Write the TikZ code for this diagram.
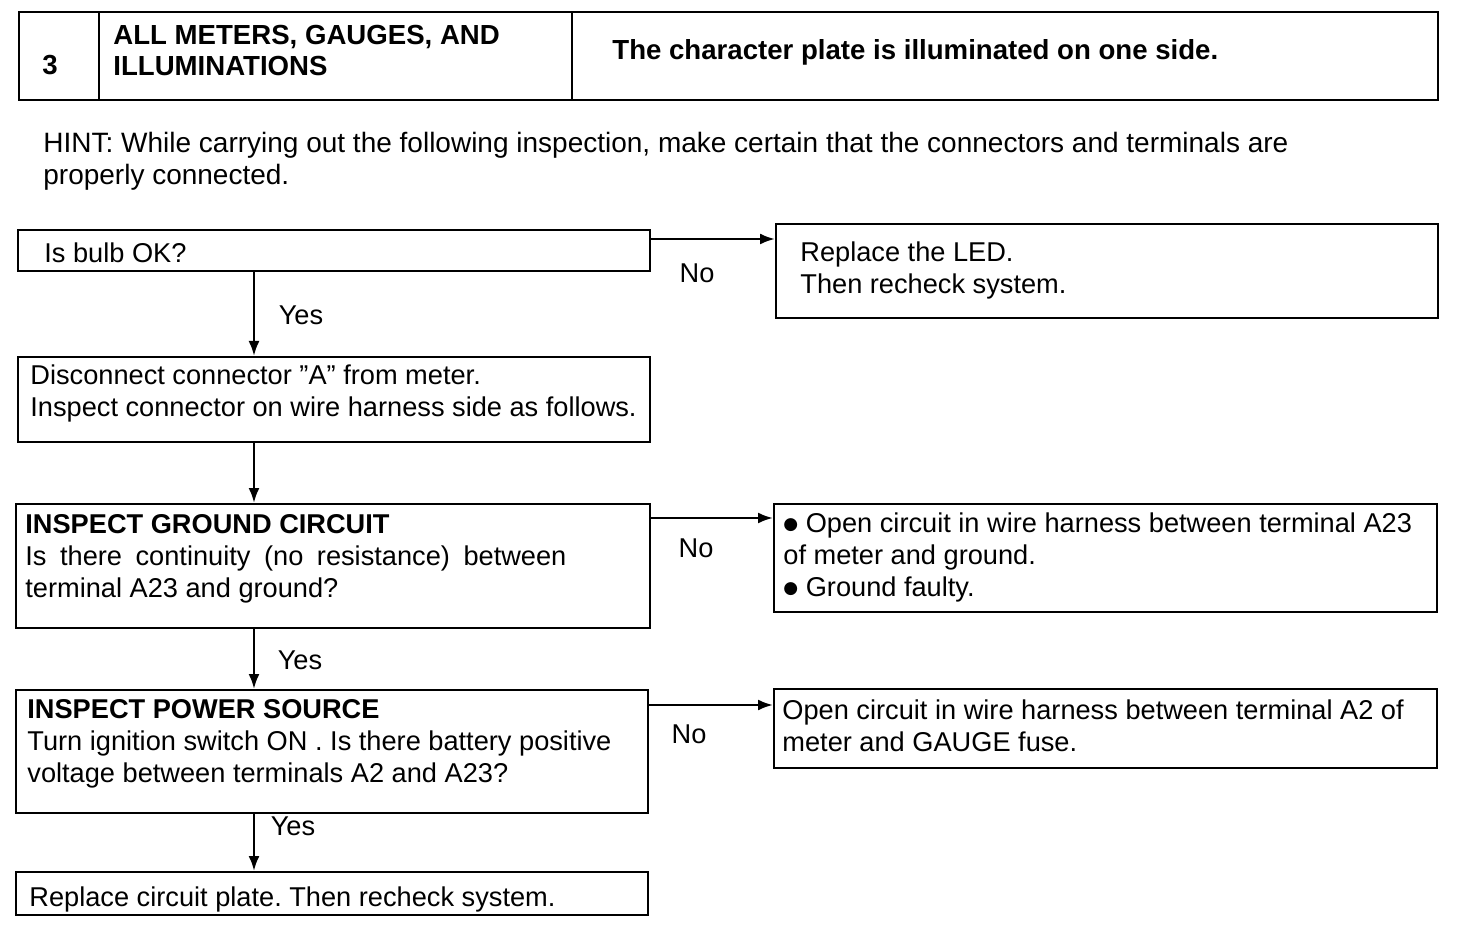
\documentclass[tikz,border=0pt]{standalone}
\usepackage{fontspec}
\setmainfont{Liberation Sans}
\newfontfamily\symfont{DejaVu Sans}
\usetikzlibrary{arrows.meta}
\frenchspacing
\newcommand{\bigdot}{\raisebox{1.3pt}{\symfont\fontsize{8.5}{16}\selectfont ●}}
\tikzset{
  box/.style={draw, line width=1pt, anchor=north west, inner sep=0pt},
  txt/.style={anchor=west, inner sep=0pt, align=left, font=\fontsize{13.6}{16}\selectfont},
  hd/.style={txt, font=\fontsize{13.8}{15.5}\selectfont\bfseries},
  lbl/.style={inner sep=0pt, font=\fontsize{13.6}{16}\selectfont},
  arr/.style={line width=1.2pt, -{Latex[length=7.5pt,width=5.5pt]}},
}
\begin{document}
\begin{tikzpicture}[x=0.5pt, y=-0.5pt]
  \useasboundingbox (0,0) rectangle (1472,930);
  % header row
  \node[box, minimum width=40pt, minimum height=44pt] (num) at (18,11) {};
  \node[box, minimum width=236.5pt, minimum height=44pt] (title) at (98,11) {};
  \node[box, minimum width=433pt, minimum height=44pt] (symptom) at (571,11) {};
  \node[hd, anchor=center] (numtxt) at (50,65) {3};
  \node[hd] (titletxt) at (113,51) {ALL METERS, GAUGES, AND\\ILLUMINATIONS};
  \node[hd] (symptomtxt) at (612,52) {The character plate is illuminated on one side.};
  % hint
  \node[txt, font=\fontsize{14}{16}\selectfont] (hint) at (43,161) {HINT: While carrying out the following inspection, make certain that the connectors and terminals are\\properly connected.};
  % boxes
  \coordinate (spine) at (254,0);
  \node[box, minimum width=316pt, minimum height=20.5pt] (bulb) at (17,229) {};
  \node[txt] (bulbtxt) at (44,253) {Is bulb OK?};
  \node[box, minimum width=331pt, minimum height=47pt] (led) at (775,223) {};
  \node[txt] (ledtxt) at (800,270) {Replace the LED.\\Then recheck system.};
  \node[box, minimum width=316pt, minimum height=42.5pt] (disc) at (17,356) {};
  \node[txt] (disctxt) at (30,393) {Disconnect connector ''A'' from meter.\\Inspect connector on wire harness side as follows.};
  \node[box, minimum width=317pt, minimum height=62pt] (ground) at (15,503) {};
  \node[txt] (groundtxt) at (25,559) {{\bfseries INSPECT GROUND CIRCUIT}\\\makebox[270.5pt][s]{Is there continuity (no resistance) between}\\terminal A23 and ground?};
  \node[box, minimum width=331.5pt, minimum height=54pt] (gfault) at (773,503) {};
  \node[txt] (gfaulttxt) at (783,557) {\bigdot\ Open circuit in wire harness between terminal A23\\of meter and ground.\\\bigdot\ Ground faulty.};
  \node[box, minimum width=316pt, minimum height=61.5pt] (power) at (15,689) {};
  \node[txt] (powertxt) at (27,744) {{\bfseries INSPECT POWER SOURCE}\\Turn ignition switch ON . Is there battery positive\\voltage between terminals A2 and A23?};
  \node[box, minimum width=331.5pt, minimum height=39.5pt] (popen) at (773,688) {};
  \node[txt] (popentxt) at (782,726) {Open circuit in wire harness between terminal A2 of\\meter and GAUGE fuse.};
  \node[box, minimum width=316pt, minimum height=21.5pt] (plate) at (15,871) {};
  \node[txt] (platetxt) at (29,899) {Replace circuit plate. Then recheck system.};
  % connectors
  \draw[arr] (bulb.south -| spine) -- (disc.north -| spine);
  \draw[arr] (disc.south -| spine) -- (ground.north -| spine);
  \draw[arr] (ground.south -| spine) -- (power.north -| spine);
  \draw[arr] (power.south -| spine) -- (plate.north -| spine);
  \draw[arr] ([yshift=-5pt]bulb.north east) coordinate (n1) -- (n1 -| led.west);
  \draw[arr] ([yshift=-7.5pt]ground.north east) coordinate (n2) -- (n2 -| gfault.west);
  \draw[arr] ([yshift=-8pt]power.north east) coordinate (n3) -- (n3 -| popen.west);
  % labels
  \node[lbl] (no1) at (697,273) {No};
  \node[lbl] (no2) at (696,548) {No};
  \node[lbl] (no3) at (689,734) {No};
  \node[lbl] (yes1) at (301,315) {Yes};
  \node[lbl] (yes2) at (300,660) {Yes};
  \node[lbl] (yes3) at (293,826) {Yes};
\end{tikzpicture}
\end{document}
